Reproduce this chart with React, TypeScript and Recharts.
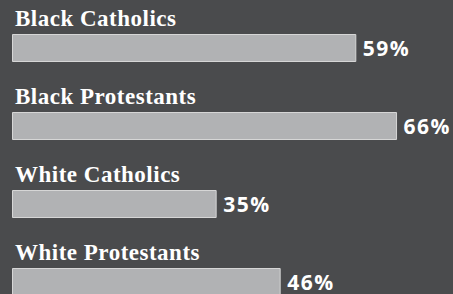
import React from "react";
import { BarChart, Bar, XAxis, YAxis, LabelList } from "recharts";

const categories = ["Black Catholics", "Black Protestants", "White Catholics", "White Protestants"];
const values = [59, 66, 35, 46];
const valueLabels = ["59%", "66%", "35%", "46%"];

const data = categories.map((name, i) => ({ name, value: values[i], label: valueLabels[i] }));

const BG = "#4a4b4d";

const renderName = (props: any) => {
  const { x, y, value } = props;
  return (
    <text
      x={Number(x) + 2.5}
      y={Number(y) - 8.5}
      fill="#ffffff"
      style={{ fontFamily: "'Liberation Serif'", fontWeight: 700, fontSize: 23, letterSpacing: 0.5 }}
    >
      {value}
    </text>
  );
};

const renderValue = (props: any) => {
  const { x, y, width, height, value } = props;
  return (
    <text
      x={Number(x) + Number(width) + 7}
      y={Number(y) + Number(height) / 2 + 7.5}
      fill="#ffffff"
      style={{ fontFamily: "'Open Sans'", fontWeight: 700, fontSize: 21, letterSpacing: 1.5 }}
    >
      {value}
    </text>
  );
};

export default function App() {
  return (
    <div
      style={{
        position: "absolute",
        left: 0,
        top: 0,
        width: 453,
        height: 294,
        overflow: "hidden",
        background: BG,
      }}
    >
      <BarChart
        width={453}
        height={330}
        data={data}
        layout="vertical"
        margin={{ top: 8.5, bottom: 9.5, left: 12.5, right: 4.1 }}
      >
        <XAxis type="number" domain={[0, 75]} hide />
        <YAxis type="category" dataKey="name" hide />
        <Bar
          dataKey="value"
          barSize={27}
          fill="#b1b2b4"
          stroke="#d6d6d6"
          strokeWidth={1}
          isAnimationActive={false}
        >
          <LabelList dataKey="name" content={renderName} />
          <LabelList dataKey="label" content={renderValue} />
        </Bar>
      </BarChart>
    </div>
  );
}
